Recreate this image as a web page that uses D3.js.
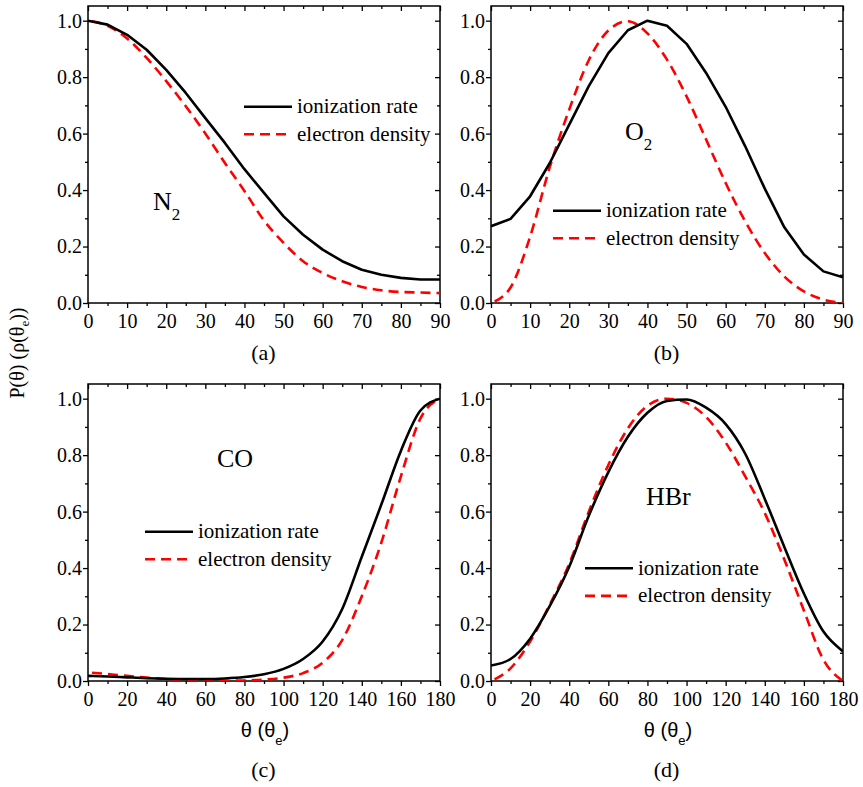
<!DOCTYPE html>
<html>
<head>
<meta charset="utf-8">
<script src="https://cdn.jsdelivr.net/npm/d3@7"></script>
<style>
  body { margin: 0; background: #fff; }
  svg text { fill: #000; }
  .serif { font-family: "Liberation Serif", "Times New Roman", Times, serif; }
  .sans { font-family: "Liberation Sans", Arial, Helvetica, sans-serif; }
</style>
</head>
<body>
<svg id="fig" width="863" height="787"></svg>
<script>
// ---- data: normalised ionization rate P(θ) and electron density ρ(θe) ----
const anglesHalf = [0,5,10,15,20,25,30,35,40,45,50,55,60,65,70,75,80,85,90];
const anglesFull = [0,10,20,30,40,50,60,70,80,90,100,110,120,130,140,150,160,170,180];

const n2Rate    = [1.000,0.986,0.950,0.897,0.826,0.744,0.655,0.567,0.474,0.390,0.307,0.242,0.189,0.148,0.118,0.100,0.089,0.083,0.083];
const n2Density = [1.000,0.982,0.937,0.868,0.786,0.697,0.600,0.496,0.397,0.292,0.213,0.148,0.106,0.077,0.057,0.045,0.039,0.037,0.035];

const o2Rate    = [0.272,0.298,0.378,0.495,0.632,0.768,0.885,0.966,1.000,0.982,0.918,0.815,0.695,0.555,0.405,0.268,0.172,0.112,0.091];
const o2Density = [0.000,0.055,0.235,0.480,0.685,0.860,0.965,0.998,0.955,0.862,0.732,0.579,0.425,0.289,0.177,0.094,0.041,0.012,0.000];

const coRate    = [0.018,0.016,0.013,0.010,0.008,0.007,0.007,0.009,0.014,0.024,0.043,0.078,0.140,0.255,0.440,0.625,0.815,0.958,1.000];
const coDensity = [0.030,0.025,0.018,0.012,0.007,0.003,0.001,0.001,0.002,0.005,0.012,0.028,0.065,0.145,0.300,0.490,0.725,0.930,1.000];

const hbrRate    = [0.055,0.078,0.150,0.265,0.405,0.585,0.740,0.865,0.950,0.992,0.997,0.968,0.910,0.805,0.645,0.475,0.310,0.175,0.105];
const hbrDensity = [0.000,0.045,0.140,0.270,0.415,0.600,0.765,0.895,0.975,1.000,0.985,0.935,0.845,0.725,0.595,0.430,0.250,0.075,0.000];

const seriesNames = ["ionization rate", "electron density"];
const yTicksMajor = [0, 0.2, 0.4, 0.6, 0.8, 1.0];
const yTicksMinor = [0.1, 0.3, 0.5, 0.7, 0.9];
const xTicksHalfMajor = [0,10,20,30,40,50,60,70,80,90];
const xTicksHalfMinor = [5,15,25,35,45,55,65,75,85];
const xTicksFullMajor = [0,20,40,60,80,100,120,140,160,180];
const xTicksFullMinor = [10,30,50,70,90,110,130,150,170];

// ---- panel layout ----
const panels = [
  { tag: "(a)", mol: "N", sub: "2", angles: anglesHalf, rate: n2Rate, dens: n2Density, xMax: 90,
    major: xTicksHalfMajor, minor: xTicksHalfMinor, box: [88, 6, 440, 303],
    rateCurve: d3.curveLinear, legend: [244, 106.7], label: [153, 210], showXTitle: false },
  { tag: "(b)", mol: "O", sub: "2", angles: anglesHalf, rate: o2Rate, dens: o2Density, xMax: 90,
    major: xTicksHalfMajor, minor: xTicksHalfMinor, box: [491, 6, 843, 303],
    rateCurve: d3.curveLinear, legend: [553, 210.7], label: [625, 140], showXTitle: false },
  { tag: "(c)", mol: "CO", sub: "", angles: anglesFull, rate: coRate, dens: coDensity, xMax: 180,
    major: xTicksFullMajor, minor: xTicksFullMinor, box: [88, 384, 440, 681],
    rateCurve: d3.curveMonotoneX, legend: [145, 531.7], label: [217, 467], showXTitle: true },
  { tag: "(d)", mol: "HBr", sub: "", angles: anglesFull, rate: hbrRate, dens: hbrDensity, xMax: 180,
    major: xTicksFullMajor, minor: xTicksFullMinor, box: [491, 384, 843, 681],
    rateCurve: d3.curveMonotoneX, legend: [585, 568.3], label: [646, 505], showXTitle: true }
];

const RED = "#ff0000";
const svg = d3.select("#fig");

panels.forEach((p, i) => {
  const [x0, y0, x1, y1] = p.box;
  const x = d3.scaleLinear().domain([0, p.xMax]).range([x0, x1]);
  const y = d3.scaleLinear().domain([0, 1.052]).range([y1, y0]);

  const g = svg.append("g");

  // clip region for the curves
  const clipId = "clip" + i;
  svg.append("clipPath").attr("id", clipId)
    .append("rect").attr("x", x0).attr("y", y0).attr("width", x1 - x0).attr("height", y1 - y0);

  const styleAxis = sel => {
    sel.attr("font-family", null).attr("font-size", null);
    sel.select(".domain").remove();
    sel.selectAll("line").attr("stroke", "#000").attr("stroke-width", 1.3);
    sel.selectAll("text").attr("class", "serif").style("font-size", "20px").attr("fill", "#000");
  };

  // bottom axis (outward ticks)
  g.append("g").attr("transform", `translate(0,${y1})`)
    .call(d3.axisBottom(x).tickValues(p.major).tickSize(5).tickPadding(6).tickFormat(d3.format("d")))
    .call(styleAxis);
  g.append("g").attr("transform", `translate(0,${y1})`)
    .call(d3.axisBottom(x).tickValues(p.minor).tickSize(3).tickFormat(""))
    .call(styleAxis);
  // top axis (inward ticks)
  g.append("g").attr("transform", `translate(0,${y0})`)
    .call(d3.axisTop(x).tickValues(p.major).tickSize(-5).tickFormat(""))
    .call(styleAxis);
  g.append("g").attr("transform", `translate(0,${y0})`)
    .call(d3.axisTop(x).tickValues(p.minor).tickSize(-3).tickFormat(""))
    .call(styleAxis);
  // left axis (outward ticks)
  g.append("g").attr("transform", `translate(${x0},0)`)
    .call(d3.axisLeft(y).tickValues(yTicksMajor).tickSize(5).tickPadding(1).tickFormat(d3.format(".1f")))
    .call(styleAxis);
  g.append("g").attr("transform", `translate(${x0},0)`)
    .call(d3.axisLeft(y).tickValues(yTicksMinor).tickSize(3).tickFormat(""))
    .call(styleAxis);
  // right axis (inward ticks)
  g.append("g").attr("transform", `translate(${x1},0)`)
    .call(d3.axisRight(y).tickValues(yTicksMajor).tickSize(-5).tickFormat(""))
    .call(styleAxis);
  g.append("g").attr("transform", `translate(${x1},0)`)
    .call(d3.axisRight(y).tickValues(yTicksMinor).tickSize(-3).tickFormat(""))
    .call(styleAxis);

  // frame
  g.append("rect").attr("x", x0).attr("y", y0).attr("width", x1 - x0).attr("height", y1 - y0)
    .attr("fill", "none").attr("stroke", "#000").attr("stroke-width", 1.5);

  // curves
  const pts = vals => p.angles.map((a, k) => [a, vals[k]]);
  const rateLine = d3.line().x(d => x(d[0])).y(d => y(d[1])).curve(p.rateCurve);
  const densLine = d3.line().x(d => x(d[0])).y(d => y(d[1])).curve(d3.curveMonotoneX);

  const curves = g.append("g").attr("clip-path", `url(#${clipId})`);
  curves.append("path").attr("d", densLine(pts(p.dens)))
    .attr("fill", "none").attr("stroke", RED).attr("stroke-width", 2.6)
    .attr("stroke-dasharray", "10,6").attr("stroke-dashoffset", -4);
  curves.append("path").attr("d", rateLine(pts(p.rate)))
    .attr("fill", "none").attr("stroke", "#000").attr("stroke-width", 2.6)
    .attr("stroke-linejoin", "round");

  // legend
  const [lx, ly] = p.legend;
  const lg = g.append("g").attr("transform", `translate(${lx},${ly})`);
  lg.append("line").attr("x1", 0).attr("x2", 48).attr("y1", 0).attr("y2", 0)
    .attr("stroke", "#000").attr("stroke-width", 2.6);
  lg.append("line").attr("x1", 0).attr("x2", 48).attr("y1", 27.6).attr("y2", 27.6)
    .attr("stroke", RED).attr("stroke-width", 2.6).attr("stroke-dasharray", "10,6");
  seriesNames.forEach((name, k) => {
    lg.append("text").attr("class", "serif").attr("x", 53).attr("y", k * 27.6 + 6.5)
      .style("font-size", "21px").text(name);
  });

  // molecule label
  const mt = g.append("text").attr("class", "serif").attr("x", p.label[0]).attr("y", p.label[1])
    .style("font-size", "26px").text(p.mol);
  if (p.sub) {
    mt.append("tspan").style("font-size", "17px").attr("dy", 10).text(p.sub);
  }

  // panel tag
  g.append("text").attr("class", "serif").attr("x", (x0 + x1) / 2 - 0.5).attr("y", p.showXTitle ? 777 : 360)
    .attr("text-anchor", "middle").style("font-size", "22px").text(p.tag);

  // x axis title
  if (p.showXTitle) {
    const xt = g.append("text").attr("class", "sans").attr("x", (x0 + x1) / 2 + 1).attr("y", 737)
      .attr("text-anchor", "middle").style("font-size", "20px");
    xt.append("tspan").text("θ (θ");
    xt.append("tspan").style("font-size", "13px").attr("dy", 8).text("e");
    xt.append("tspan").attr("dy", -8).text(")");
  }
});

// shared y axis title
const yt = svg.append("text").attr("class", "serif").attr("transform", "translate(24,353) rotate(-90)")
  .attr("text-anchor", "middle").style("font-size", "20px");
yt.append("tspan").text("P(θ) (ρ(θ");
yt.append("tspan").style("font-size", "13px").attr("dy", 5).text("e");
yt.append("tspan").attr("dy", -5).text("))");
</script>
</body>
</html>
